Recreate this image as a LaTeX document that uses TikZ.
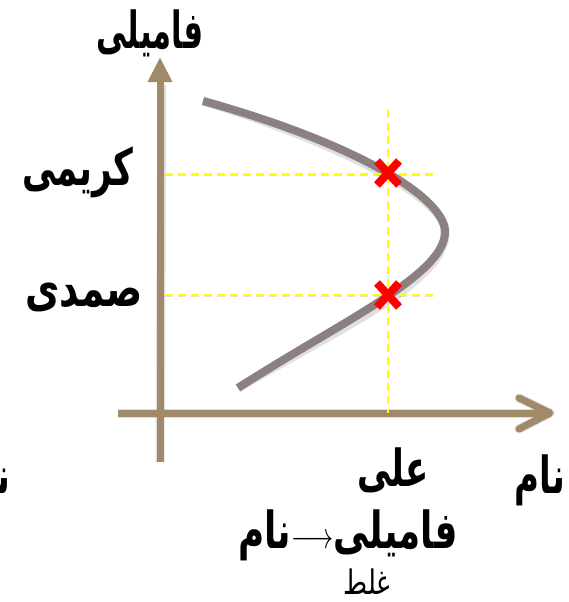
\documentclass[tikz,border=0pt]{standalone}
\usepackage{fontspec}
\newfontfamily\arabicfont[Script=Arabic]{DejaVu Sans}
\TeXXeTstate=1
\usetikzlibrary{arrows.meta}
\definecolor{axiscol}{HTML}{A08A69}
\definecolor{curvecol}{HTML}{8C8080}
\definecolor{guidecol}{HTML}{FFFF00}
\definecolor{markcol}{HTML}{FF0000}
\newcommand\artall[1]{\scalebox{1}[1.5]{\beginR #1\endR}}
\tikzset{
  axisline/.style={draw=axiscol, line width=7pt},
  shadowline/.style={draw=black, opacity=0.12, line width=9pt},
  curveline/.style={draw=curvecol, line width=8pt},
  guide/.style={draw=guidecol, line width=2.3pt, dash pattern=on 8pt off 5pt},
  guideshadow/.style={draw=black, opacity=0.12, line width=3pt, dash pattern=on 8pt off 5pt},
  xmark/.style={draw=markcol, line width=8pt},
  bigtxt/.style={font=\arabicfont\bfseries\fontsize{34}{38}\selectfont, inner sep=0pt},
  smalltxt/.style={font=\arabicfont\fontsize{26}{30}\selectfont, inner sep=0pt},
}
\begin{document}
\begin{tikzpicture}[x=1pt,y=-1pt]
\useasboundingbox (0,0) rectangle (568,602);
\clip (0,0) rectangle (568,602);
% coordinates
\coordinate (vb) at (160,462);
\coordinate (vt) at (160,57);
\coordinate (hl) at (118,413);
\coordinate (hr) at (550,413);
\coordinate (ha1) at (519,398);
\coordinate (ha2) at (519,429);
\coordinate (k1) at (165,174);
\coordinate (k2) at (433,174);
\coordinate (s1) at (165,295);
\coordinate (s2) at (433,295);
\coordinate (g1) at (388,110);
\coordinate (g2) at (388,413);
\coordinate (xa) at (388,173);
\coordinate (xb) at (388,295);
\coordinate (c0) at (203,101);
\coordinate (cv) at (445,232);
\coordinate (c1) at (238,388);
% shadows
\begin{scope}[shift={(2,5)}]
  \draw[shadowline] (vb) -- (160,80);
  \draw[shadowline] (hl) -- (hr);
  \draw[shadowline, line cap=round, line join=round] (ha1) -- (hr) -- (ha2);
  \draw[shadowline] (c0) .. controls (345,140) and (445,195) .. (cv)
                         .. controls (445,275) and (340,322) .. (c1);
  \draw[guideshadow] (k1) -- (k2);
  \draw[guideshadow] (s1) -- (s2);
\end{scope}
% axes
\draw[axisline, -{Triangle[length=25pt,width=23pt]}] (vb) -- (vt);
\draw[axisline] (hl) -- (hr);
\draw[axisline, line cap=round, line join=round] (ha1) -- (hr) -- (ha2);
% curve
\draw[curveline] (c0) .. controls (345,140) and (445,195) .. (cv)
                      .. controls (445,275) and (340,322) .. (c1);
% guides
\draw[guide] (k1) -- (k2);
\draw[guide] (s1) -- (s2);
\draw[guide] (g1) -- (g2);
% marks
\foreach \p in {xa,xb}{
  \draw[xmark] ([shift={(-11,-12)}]\p) -- ([shift={(11,12)}]\p);
  \draw[xmark] ([shift={(-11,12)}]\p) -- ([shift={(11,-12)}]\p);
}
% labels
\node[bigtxt] (tfam) at (150,33) {\scalebox{0.9}[1.5]{\beginR فامیلی\endR}};
\node[bigtxt] (tkar) at (78,172) {\artall{کریمی}};
\node[bigtxt] (tsam) at (84,297) {\scalebox{1.1}[1.5]{\beginR صمدی\endR}};
\node[bigtxt] (tali) at (393,470) {\artall{علی}};
\node[bigtxt] (tnam) at (540,480) {\artall{نام}};
\node[bigtxt, anchor=east] (tnaml) at (10,480) {\artall{نام}};
\node[bigtxt] (tfd) at (348,535) {\scalebox{1.05}[1.5]{\beginR نام\endR$\longrightarrow$\beginR فامیلی\endR}};
\node[smalltxt] (tgh) at (367,582) {\scalebox{1}[1.3]{\beginR غلط\endR}};
\end{tikzpicture}
\end{document}
